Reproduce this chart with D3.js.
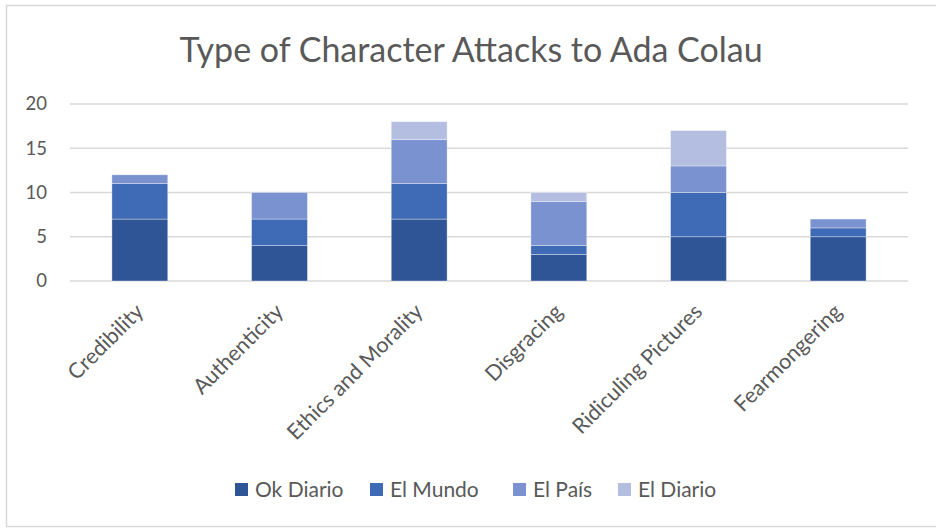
<!DOCTYPE html>
<html><head><meta charset="utf-8">
<script src="https://cdn.jsdelivr.net/npm/d3@7"></script>
<style>body{margin:0;background:#fff;} text{font-family:Lato,"Open Sans",sans-serif;fill:#595959;}</style>
</head><body>
<svg id="c" width="936" height="529"></svg>
<script>
const categories = ["Credibility","Authenticity","Ethics and Morality","Disgracing","Ridiculing Pictures","Fearmongering"];
const seriesNames = ["Ok Diario","El Mundo","El País","El Diario"];
const okDiario = [7,4,7,3,5,5];
const elMundo  = [4,3,4,1,5,1];
const elPais   = [1,3,5,5,3,1];
const elDiario = [0,0,2,1,4,0];
const yTicks = [0,5,10,15,20];
const colors = ["#2F5597","#3F6AB5","#7A92CF","#B3BEE0"];
const title = "Type of Character Attacks to Ada Colau";

const svg = d3.select("#c");
svg.append("rect").attr("x",6.5).attr("y",5.5).attr("width",940).attr("height",521)
  .attr("fill","none").attr("stroke","#d9d9d9").attr("stroke-width",1.5);

const rows = categories.map((c,i)=>({cat:c,"Ok Diario":okDiario[i],"El Mundo":elMundo[i],"El País":elPais[i],"El Diario":elDiario[i]}));
const stacked = d3.stack().keys(seriesNames)(rows);

const x = d3.scaleBand().domain(categories).range([70,908]).paddingInner(0.6).paddingOuter(0.3);
const y = d3.scaleLinear().domain([0,20]).range([281,104]);
const color = d3.scaleOrdinal().domain(seriesNames).range(colors);

svg.append("g").selectAll("line").data(yTicks).join("line")
  .attr("x1",70).attr("x2",908).attr("y1",d=>y(d)).attr("y2",d=>y(d))
  .attr("stroke","#d9d9d9").attr("stroke-width",1.4);

const yAxis = svg.append("g").attr("transform","translate(47,0)")
  .call(d3.axisLeft(y).tickValues(yTicks).tickSize(0).tickPadding(0));
yAxis.select(".domain").remove();
yAxis.selectAll("text").attr("font-size",18.5).style("font-family","Lato").attr("fill","#595959");

svg.append("g").selectAll("g").data(stacked).join("g")
  .attr("fill",d=>color(d.key))
  .selectAll("rect").data(d=>d).join("rect")
  .attr("x",d=>x(d.data.cat)).attr("width",x.bandwidth())
  .attr("y",d=>y(d[1])).attr("height",d=>y(d[0])-y(d[1]))
  .attr("stroke","#ffffff").attr("stroke-opacity",0.5).attr("stroke-width",0.7);

const xAxis = svg.append("g").attr("transform","translate(0,281)")
  .call(d3.axisBottom(x).tickSize(0).tickPadding(0));
xAxis.select(".domain").remove();
xAxis.selectAll("text")
  .attr("font-size",21.5).style("font-family","Lato").attr("fill","#595959")
  .attr("text-anchor","end").attr("dy",0)
  .attr("transform","translate(5,32) rotate(-45)");

svg.append("text").attr("x",471).attr("y",62).attr("text-anchor","middle")
  .attr("font-size",34).text(title);

const legendX = [235,370,513,618];
const lg = svg.append("g").selectAll("g").data(seriesNames).join("g")
  .attr("transform",(d,i)=>`translate(${legendX[i]},483)`);
lg.append("rect").attr("width",13).attr("height",13).attr("fill",d=>color(d));
lg.append("text").attr("x",20).attr("y",14).attr("font-size",21).text(d=>d);
</script>
</body></html>
